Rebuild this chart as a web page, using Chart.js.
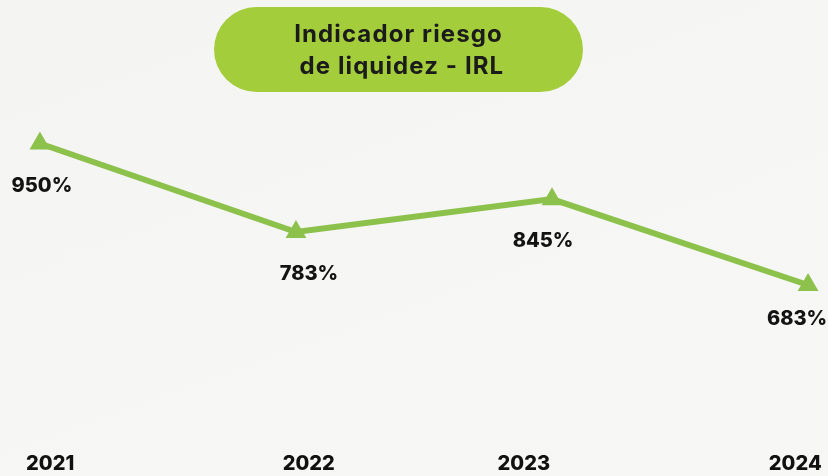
<!DOCTYPE html>
<html>
<head>
<meta charset="utf-8">
<script src="https://cdn.jsdelivr.net/npm/chart.js@4.4.1/dist/chart.umd.min.js"></script>
<style>
  html, body { margin: 0; padding: 0; }
  body {
    width: 828px;
    height: 476px;
    background: linear-gradient(160deg, #f4f4f3 0%, #f6f6f5 55%, #f7f7f6 100%);
    position: relative;
    overflow: hidden;
    font-family: Inter, "Open Sans", sans-serif;
  }
  .title-pill {
    position: absolute;
    left: 214px;
    top: 7px;
    width: 369px;
    height: 85px;
    border-radius: 43px;
    background: #a4cd3b;
    color: #1b1b1b;
    font-weight: 700;
    font-size: 24px;
    letter-spacing: 1.1px;
    line-height: 32px;
    text-align: center;
    display: flex;
    align-items: center;
    justify-content: center;
    z-index: 2;
  }
  .chart-box { position: absolute; left: 0; top: 0; width: 828px; height: 476px; }
</style>
</head>
<body>
<div class="title-pill"><div>Indicador riesgo<br>&nbsp;de liquidez - IRL</div></div>
<div class="chart-box"><canvas id="irl"></canvas></div>
<script>
// IRL yearly values
const years = ["2021", "2022", "2023", "2024"];
const irlValues = [950, 783, 845, 683];
const valueLabels = ["950%", "783%", "845%", "683%"];

const green = "#8cc14c";

// little shifts so the year ticks sit where the designer placed them
const yearNudge = [0.04, 0.05, -0.11, -0.05];
// where each % label goes relative to its point
const labelShift = [[2, 43], [13, 42], [-9, 42], [-11, 34]];

const valueLabelPlugin = {
  id: "valueLabels",
  afterDatasetsDraw(chart) {
    const ctx = chart.ctx;
    const meta = chart.getDatasetMeta(0);
    ctx.save();
    ctx.font = "800 20px Inter, 'Open Sans', sans-serif";
    ctx.fillStyle = "#131313";
    ctx.textAlign = "center";
    ctx.textBaseline = "middle";
    meta.data.forEach((pt, i) => {
      const [dx, dy] = labelShift[i];
      ctx.fillText(valueLabels[i], pt.x + dx, pt.y + dy);
    });
    ctx.restore();
  },
};

const irlChart = new Chart(document.getElementById("irl"), {
  type: "line",
  data: {
    datasets: [
      {
        data: irlValues.map((v, i) => ({ x: i, y: v })),
        borderColor: green,
        backgroundColor: green,
        borderWidth: 6,
        pointStyle: "triangle",
        pointRadius: 12,
        pointHoverRadius: 12,
        pointBorderWidth: 0,
        tension: 0,
        clip: false,
      },
    ],
  },
  options: {
    responsive: true,
    maintainAspectRatio: false,
    animation: false,
    layout: { padding: { left: 2, right: 2, top: 0, bottom: 0 } },
    scales: {
      x: {
        type: "linear",
        min: -0.109,
        max: 3.031,
        afterBuildTicks: (scale) => {
          scale.ticks = years.map((_, i) => ({ value: i + yearNudge[i] }));
        },
        ticks: {
          autoSkip: false,
          maxRotation: 0,
          padding: 0,
          color: "#111",
          font: { family: "Inter, 'Open Sans', sans-serif", weight: "800", size: 20 },
          callback: (value) => years[Math.round(value)],
        },
        grid: { display: false, drawTicks: false },
        border: { display: false },
      },
      y: {
        display: false,
        min: 368,
        max: 1198,
      },
    },
    plugins: {
      legend: { display: false },
      tooltip: { enabled: false },
    },
  },
  plugins: [valueLabelPlugin],
});
</script>
</body>
</html>
